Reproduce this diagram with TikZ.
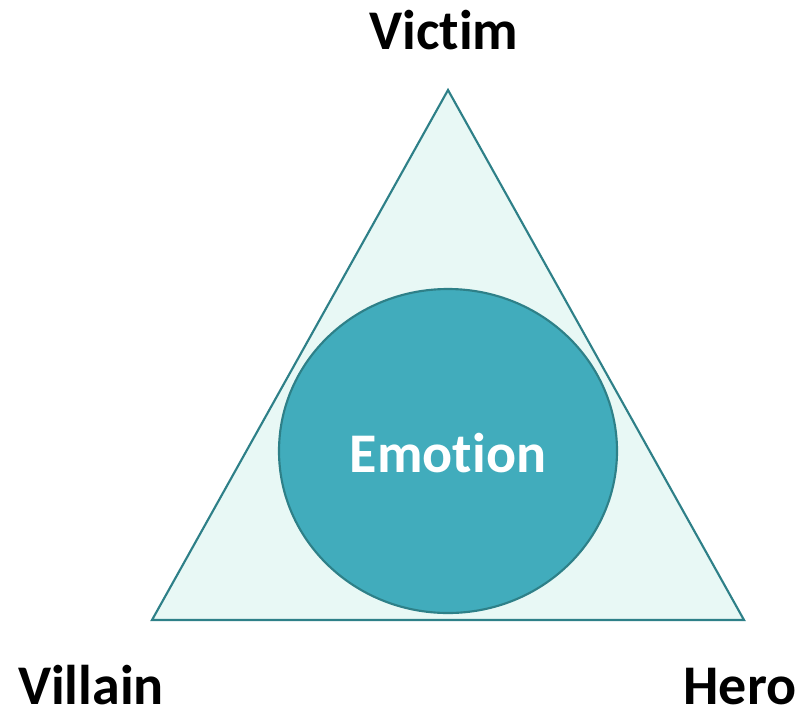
\documentclass[tikz,border=0pt]{standalone}
\usepackage{fontspec}
\setmainfont[Ligatures=NoCommon]{Carlito}
\definecolor{tealline}{HTML}{2E8088}
\definecolor{mintfill}{HTML}{E8F8F5}
\definecolor{emofill}{HTML}{41ACBC}
\tikzset{
  role/.style={anchor=base, inner sep=1pt, text depth=0pt, font=\fontsize{42}{50}\selectfont\bfseries},
}
\begin{document}
\begin{tikzpicture}[x=0.75pt, y=-0.75pt]
\useasboundingbox (0,0) rectangle (805,715);
\draw[tealline, line width=1.6pt, fill=mintfill] (448,90) -- (744,620) -- (152,620) -- cycle;
\draw[tealline, line width=1.6pt, fill=emofill] (448,451) ellipse (169 and 162);

\node[role] (victim) at (444,49) {Victim};
\node[role] (villain) at (91,704) {Villain};
\node[role] (hero) at (740,704) {Hero};
\node[role, white] (emotion) at (448,472) {Emotion};
\end{tikzpicture}
\end{document}
